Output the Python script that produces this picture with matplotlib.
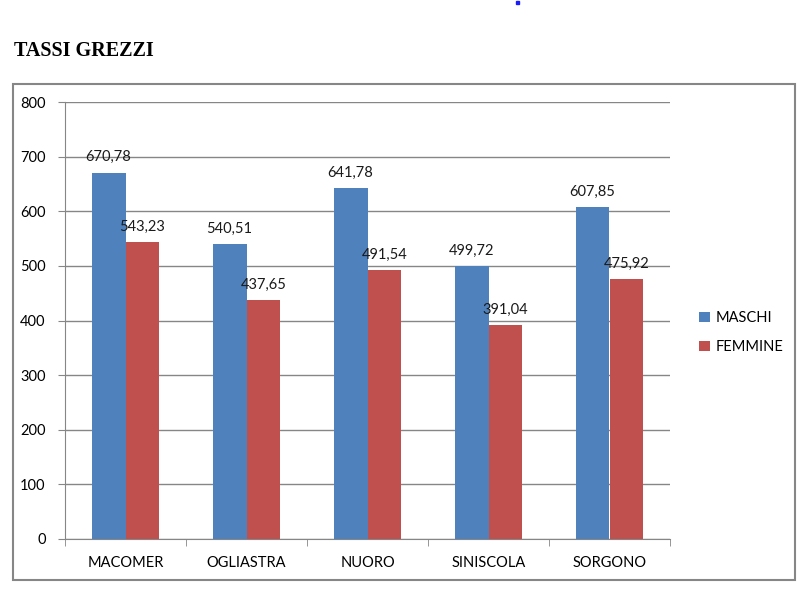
import matplotlib.pyplot as plt
import numpy as np
from matplotlib.patches import Rectangle

categories = ["MACOMER", "OGLIASTRA", "NUORO", "SINISCOLA", "SORGONO"]
maschi = [670.78, 540.51, 641.78, 499.72, 607.85]
femmine = [543.23, 437.65, 491.54, 391.04, 475.92]
series_names = ["MASCHI", "FEMMINE"]
yticks = [0, 100, 200, 300, 400, 500, 600, 700, 800]

W, H = 810, 602
fig = plt.figure(figsize=(W / 100, H / 100), dpi=100)
plt.rcParams['font.family'] = ['Lato', 'DejaVu Sans']

# outer chart frame
fig.patches.append(Rectangle((13 / W, 1 - 580 / H), (795 - 13) / W, (580 - 84) / H,
                             transform=fig.transFigure, fill=False,
                             edgecolor='#868686', linewidth=1.5))
# small blue dot at top
fig.patches.append(Rectangle((516 / W, 1 - 4 / H), 3 / W, 3 / H,
                             transform=fig.transFigure, color='#1a1aff'))

fig.text(14 / W, 1 - 56 / H, "TASSI GREZZI", family='Liberation Serif',
         fontweight='bold', fontsize=14.5, ha='left', va='baseline')

ax = fig.add_axes([65 / W, 1 - 539 / H, (670 - 65) / W, (539 - 102) / H])

x = np.arange(len(categories))
bw = 0.28
grid_c = '#868686'
b1 = ax.bar(x - bw / 2, maschi, bw, color='#4F81BD', label=series_names[0], zorder=3)
b2 = ax.bar(x + bw / 2, femmine, bw, color='#C0504D', label=series_names[1], zorder=3)

for bars, vals in ((b1, maschi), (b2, femmine)):
    for r, v in zip(bars, vals):
        ax.annotate(f"{v:.2f}".replace('.', ','),
                    (r.get_x() + r.get_width() / 2, v),
                    xytext=(0, 6), textcoords='offset points',
                    ha='center', va='bottom', fontsize=10.5, color='#1a1a1a', zorder=4)

ax.set_xlim(-0.5, len(categories) - 0.5)
ax.set_ylim(0, 800)
ax.set_yticks(yticks)
ax.tick_params(axis='y', length=5, color=grid_c, labelsize=10.5, pad=9)
ax.yaxis.grid(True, color=grid_c, linewidth=1, zorder=0)
ax.set_xticks(x)
ax.set_xticklabels(categories, fontsize=10.5)
ax.set_xticks(np.arange(len(categories) + 1) - 0.5, minor=True)
ax.tick_params(axis='x', which='major', length=0, pad=12)
ax.tick_params(axis='x', which='minor', length=5, color=grid_c)

for s in ['top', 'right']:
    ax.spines[s].set_visible(False)
for s in ['left', 'bottom']:
    ax.spines[s].set_color(grid_c)

fig.legend(handles=[b1, b2], labels=series_names, loc='upper left',
           bbox_to_anchor=(692 / W, 1 - 304 / H), frameon=False,
           fontsize=10.5, handlelength=0.7, handleheight=0.7,
           handletextpad=0.4, labelspacing=1.0, borderpad=0)

fig.savefig("out.png", dpi=100)
